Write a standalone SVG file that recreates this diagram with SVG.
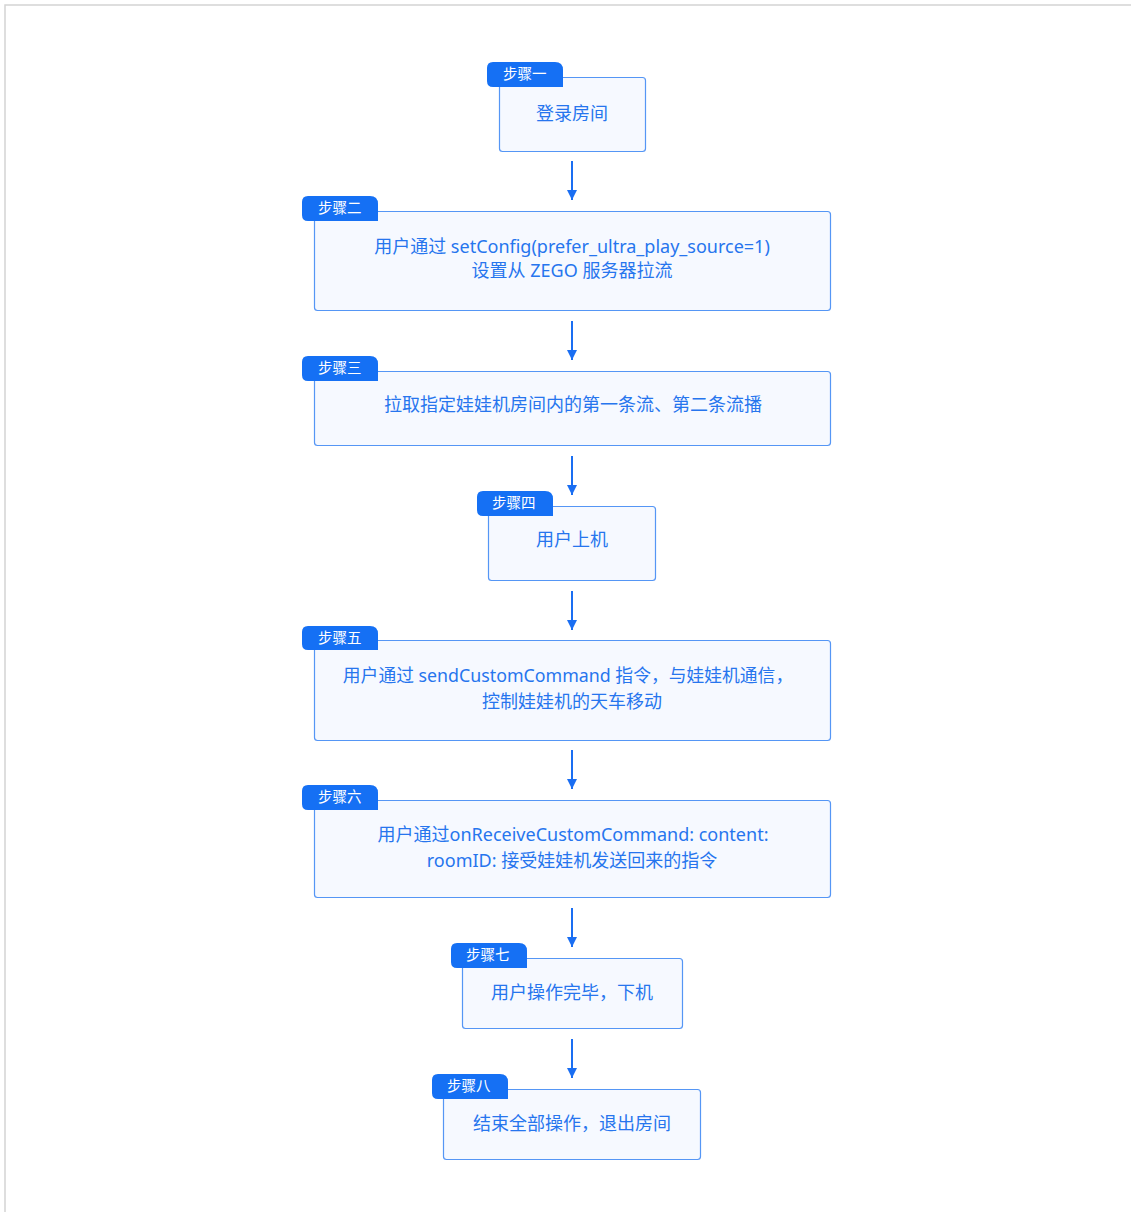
<svg xmlns="http://www.w3.org/2000/svg" width="1131" height="1212" viewBox="0 0 1131 1212">
<defs>
<style>
.box{fill:#f6f9ff;stroke:#5596f5;stroke-width:1.2}
.tab{fill:#1570f4}
.tt{fill:#ffffff;font-family:"Noto Sans CJK SC","Noto Sans",sans-serif;font-size:14.5px}
.t{fill:#2675ee;font-family:"Noto Sans","Noto Sans CJK SC",sans-serif;font-size:18px;text-anchor:middle}
.cjk{fill:#2675ee;font-family:"Noto Sans CJK SC",sans-serif;font-size:18px;text-anchor:middle}
.conn{stroke:#1a6ef2;stroke-width:2;fill:none}
</style>
<marker id="ah" viewBox="0 0 10 10" refX="10" refY="5" markerWidth="10" markerHeight="10" markerUnits="userSpaceOnUse" orient="auto">
<path d="M0,0 L10,5 L0,10 Z" fill="#1a6ef2"/>
</marker>
</defs>
<rect width="1131" height="1212" fill="#ffffff"/>
<path d="M5,1212 V5 H1131" fill="none" stroke="#d4d4d4" stroke-width="1.5"/>
<g id="connectors">
<line class="conn" x1="572" y1="161" x2="572" y2="200" marker-end="url(#ah)"/>
<line class="conn" x1="572" y1="321" x2="572" y2="360" marker-end="url(#ah)"/>
<line class="conn" x1="572" y1="456" x2="572" y2="495" marker-end="url(#ah)"/>
<line class="conn" x1="572" y1="591" x2="572" y2="630" marker-end="url(#ah)"/>
<line class="conn" x1="572" y1="750" x2="572" y2="789" marker-end="url(#ah)"/>
<line class="conn" x1="572" y1="908" x2="572" y2="947" marker-end="url(#ah)"/>
<line class="conn" x1="572" y1="1039" x2="572" y2="1078" marker-end="url(#ah)"/>
</g>
<g id="step1">
<rect class="box" x="499.5" y="77.5" width="146" height="74" rx="3"/>
<path class="tab" d="M487,68 Q487,62 493,62 H555 Q563,62 563,70 V87 H493 Q487,87 487,81 Z"/>
<text class="tt" x="503" y="79">步骤一</text>
<text class="cjk" x="572" y="120">登录房间</text>
</g>
<g id="step2">
<rect class="box" x="314.5" y="211.5" width="516" height="99" rx="3"/>
<path class="tab" d="M302,202 Q302,196 308,196 H370 Q378,196 378,204 V221 H308 Q302,221 302,215 Z"/>
<text class="tt" x="318" y="213">步骤二</text>
<text class="t" x="572" y="253">用户通过 setConfig(prefer_ultra_play_source=1)</text>
<text class="t" x="572" y="277">设置从 ZEGO 服务器拉流</text>
</g>
<g id="step3">
<rect class="box" x="314.5" y="371.5" width="516" height="74" rx="3"/>
<path class="tab" d="M302,362 Q302,356 308,356 H370 Q378,356 378,364 V381 H308 Q302,381 302,375 Z"/>
<text class="tt" x="318" y="373">步骤三</text>
<text class="cjk" x="573" y="411">拉取指定娃娃机房间内的第一条流、第二条流播</text>
</g>
<g id="step4">
<rect class="box" x="488.5" y="506.5" width="167" height="74" rx="3"/>
<path class="tab" d="M477,497 Q477,491 483,491 H545 Q553,491 553,499 V516 H483 Q477,516 477,510 Z"/>
<text class="tt" x="492" y="508">步骤四</text>
<text class="cjk" x="572" y="546">用户上机</text>
</g>
<g id="step5">
<rect class="box" x="314.5" y="640.5" width="516" height="100" rx="3"/>
<path class="tab" d="M302,632 Q302,626 308,626 H370 Q378,626 378,634 V650 H308 Q302,650 302,644 Z"/>
<text class="tt" x="318" y="643">步骤五</text>
<text class="t" x="568" y="682" style="font-size:17.8px">用户通过 sendCustomCommand 指令，与娃娃机通信，</text>
<text class="cjk" x="572" y="708">控制娃娃机的天车移动</text>
</g>
<g id="step6">
<rect class="box" x="314.5" y="800.5" width="516" height="97" rx="3"/>
<path class="tab" d="M302,791 Q302,785 308,785 H370 Q378,785 378,793 V810 H308 Q302,810 302,804 Z"/>
<text class="tt" x="318" y="802">步骤六</text>
<text class="t" x="573" y="841">用户通过onReceiveCustomCommand: content:</text>
<text class="t" x="572" y="867">roomID: 接受娃娃机发送回来的指令</text>
</g>
<g id="step7">
<rect class="box" x="462.5" y="958.5" width="220" height="70" rx="3"/>
<path class="tab" d="M451,949 Q451,943 457,943 H519 Q527,943 527,951 V968 H457 Q451,968 451,962 Z"/>
<text class="tt" x="466" y="960">步骤七</text>
<text class="cjk" x="572" y="999">用户操作完毕，下机</text>
</g>
<g id="step8">
<rect class="box" x="443.5" y="1089.5" width="257" height="70" rx="3"/>
<path class="tab" d="M432,1080 Q432,1074 438,1074 H500 Q508,1074 508,1082 V1099 H438 Q432,1099 432,1093 Z"/>
<text class="tt" x="447" y="1091">步骤八</text>
<text class="cjk" x="572" y="1130">结束全部操作，退出房间</text>
</g>
</svg>
